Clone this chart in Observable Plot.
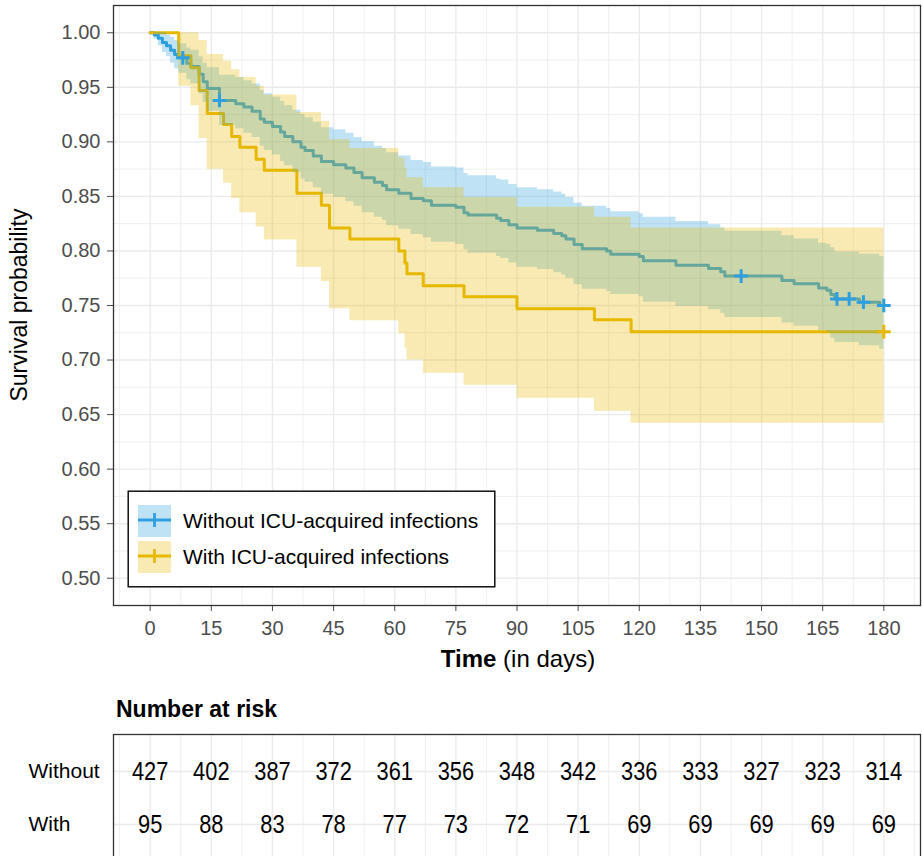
<!DOCTYPE html>
<html><head><meta charset="utf-8">
<script src="https://cdn.jsdelivr.net/npm/d3@7"></script>
<script src="https://cdn.jsdelivr.net/npm/@observablehq/plot@0.6"></script>
<style>
html,body{margin:0;padding:0;background:#fff;overflow:hidden}
#wrap{position:relative;width:922px;height:856px;overflow:hidden;font-family:"Liberation Sans",Arial,Helvetica,sans-serif}
#wrap > svg{position:absolute;left:0}
</style></head><body><div id="wrap"></div>
<script>
// ---------- data ----------
const seriesNames = ["Without ICU-acquired infections", "With ICU-acquired infections"];
const riskGroups = ["Without", "With"];
const xTicks = [0, 15, 30, 45, 60, 75, 90, 105, 120, 135, 150, 165, 180];
const xMinorTicks = [-7.5, 7.5, 22.5, 37.5, 52.5, 67.5, 82.5, 97.5, 112.5, 127.5, 142.5, 157.5, 172.5, 187.5];
const yTicks = [0.50, 0.55, 0.60, 0.65, 0.70, 0.75, 0.80, 0.85, 0.90, 0.95, 1.00];
const yMinorTicks = [0.525, 0.575, 0.625, 0.675, 0.725, 0.775, 0.825, 0.875, 0.925, 0.975];

// Without ICU-acquired infections (blue)
const blueTime  = [0,1,2,3,4,5,6,7,9,10,12,13,14,17,21,23,25,27,28,30,32,33,35,37,38,40,42,45,48,50,52,55,57,58,61,64,67,69,75,77,78,85,86,88,90,95,99,101,102,104,106,112,113,120,121,129,137,140,141,155,158,164,166,167,168,174,179,180];
const blueSurv  = [1,0.998,0.995,0.991,0.988,0.984,0.980,0.977,0.972,0.969,0.962,0.955,0.949,0.938,0.935,0.932,0.928,0.921,0.918,0.914,0.909,0.905,0.900,0.895,0.892,0.887,0.882,0.879,0.876,0.872,0.867,0.863,0.860,0.856,0.853,0.848,0.846,0.842,0.840,0.835,0.833,0.830,0.828,0.824,0.821,0.819,0.816,0.814,0.811,0.806,0.802,0.800,0.797,0.795,0.791,0.787,0.784,0.781,0.777,0.773,0.770,0.766,0.764,0.760,0.756,0.753,0.750,0.750];
const blueUpper = [1,1,1,1,0.998,0.996,0.993,0.990,0.986,0.984,0.978,0.972,0.968,0.961,0.959,0.956,0.953,0.947,0.944,0.941,0.937,0.933,0.929,0.925,0.922,0.918,0.913,0.911,0.908,0.904,0.900,0.896,0.894,0.890,0.887,0.883,0.881,0.877,0.876,0.871,0.869,0.866,0.865,0.861,0.858,0.856,0.854,0.852,0.849,0.844,0.841,0.839,0.836,0.834,0.831,0.827,0.824,0.821,0.818,0.814,0.811,0.807,0.806,0.803,0.799,0.797,0.795,0.795];
const blueLower = [1,0.994,0.988,0.982,0.978,0.972,0.967,0.963,0.957,0.953,0.944,0.936,0.928,0.915,0.912,0.908,0.904,0.896,0.892,0.888,0.882,0.878,0.872,0.866,0.863,0.858,0.852,0.849,0.845,0.841,0.835,0.831,0.828,0.823,0.820,0.815,0.812,0.808,0.806,0.801,0.798,0.795,0.793,0.789,0.785,0.783,0.780,0.778,0.775,0.769,0.765,0.763,0.760,0.758,0.753,0.749,0.746,0.743,0.739,0.734,0.731,0.727,0.725,0.720,0.716,0.713,0.710,0.710];
const blueCensorTimes = [8, 17, 145, 168.5, 171.5, 175, 180];

// With ICU-acquired infections (yellow)
const yellowTime  = [0,7,10,12,14,18,20,22,26,28,36,42,44,49,61,62.5,63,67,77,90,109,118,180];
const yellowSurv  = [1,0.979,0.968,0.947,0.926,0.916,0.905,0.895,0.884,0.874,0.853,0.842,0.821,0.811,0.800,0.789,0.779,0.768,0.758,0.747,0.737,0.726,0.726];
const yellowUpper = [1,1,1,0.993,0.980,0.974,0.966,0.959,0.951,0.943,0.927,0.919,0.902,0.894,0.885,0.876,0.867,0.858,0.849,0.840,0.831,0.821,0.821];
const yellowLower = [1,0.951,0.933,0.903,0.875,0.862,0.848,0.835,0.822,0.810,0.785,0.772,0.747,0.736,0.724,0.711,0.700,0.688,0.677,0.665,0.653,0.642,0.642];
const yellowCensorTimes = [180];

// Number at risk
const riskTimes   = [0, 15, 30, 45, 60, 75, 90, 105, 120, 135, 150, 165, 180];
const riskWithout = [427, 402, 387, 372, 361, 356, 348, 342, 336, 333, 327, 323, 314];
const riskWith    = [95, 88, 83, 78, 77, 73, 72, 71, 69, 69, 69, 69, 69];

// ---------- build ----------
const BLUE = "#2E9FDF", YELLOW = "#E7B800";
const FONT = '"Liberation Sans", Arial, Helvetica, sans-serif';
const toRows = (T, S, U, L) => T.map((t, i) => ({time: t, surv: S[i], upper: U[i], lower: L[i]}));
const blue = toRows(blueTime, blueSurv, blueUpper, blueLower);
const yellow = toRows(yellowTime, yellowSurv, yellowUpper, yellowLower);
function survAt(T, S, t) { let v = S[0]; for (let i = 0; i < T.length; i++) if (T[i] <= t) v = S[i]; return v; }
const blueCens = blueCensorTimes.map(t => ({time: t, surv: survAt(blueTime, blueSurv, t)}));
const yellowCens = yellowCensorTimes.map(t => ({time: t, surv: survAt(yellowTime, yellowSurv, t)}));
const riskRows = [
  ...riskTimes.map((t, i) => ({time: t, group: riskGroups[0], n: riskWithout[i]})),
  ...riskTimes.map((t, i) => ({time: t, group: riskGroups[1], n: riskWith[i]}))
];

const GRID = "#EBEBEB";
const main = Plot.plot({
  width: 922, height: 692,
  marginTop: 5, marginBottom: 87, marginLeft: 113, marginRight: 2,
  style: {fontFamily: FONT, fontSize: "20px", color: "#4D4D4D", background: "#fff"},
  x: {domain: [-9, 189], ticks: xTicks, tickSize: 6, tickPadding: 9, label: null},
  y: {domain: [0.475, 1.025], ticks: yTicks, tickFormat: d3.format(".2f"), tickSize: 6, tickPadding: 7, label: null},
  marks: [
    Plot.ruleX(xMinorTicks, {stroke: GRID, strokeWidth: 0.8}),
    Plot.ruleY(yMinorTicks, {stroke: GRID, strokeWidth: 0.8}),
    Plot.ruleX(xTicks, {stroke: GRID, strokeWidth: 1.4}),
    Plot.ruleY(yTicks, {stroke: GRID, strokeWidth: 1.4}),
    Plot.line(blue, {x: "time", y: "surv", curve: "step-after", stroke: BLUE, strokeWidth: 3}),
    Plot.line(yellow, {x: "time", y: "surv", curve: "step-after", stroke: YELLOW, strokeWidth: 3}),
    Plot.areaY(blue, {x: "time", y1: "lower", y2: "upper", curve: "step-after", fill: BLUE, fillOpacity: 0.3}),
    Plot.areaY(yellow, {x: "time", y1: "lower", y2: "upper", curve: "step-after", fill: YELLOW, fillOpacity: 0.3}),
    Plot.dot(blueCens, {x: "time", y: "surv", symbol: "plus", r: 4.5, stroke: BLUE, strokeWidth: 3}),
    Plot.dot(yellowCens, {x: "time", y: "surv", symbol: "plus", r: 4.5, stroke: YELLOW, strokeWidth: 3}),
    Plot.frame({stroke: "#333333", strokeWidth: 1.3})
  ]
});
main.style.top = "0px";
const ms = d3.select(main);
const xt = ms.append("text").attr("x", 518).attr("y", 667).attr("text-anchor", "middle")
  .attr("font-size", 24).attr("fill", "#000").attr("font-family", FONT);
xt.append("tspan").attr("font-weight", "bold").text("Time");
xt.append("tspan").text(" (in days)");
ms.append("text").attr("transform", "translate(27,305) rotate(-90)").attr("text-anchor", "middle")
  .attr("font-size", 23).attr("fill", "#000").attr("font-family", FONT).text("Survival probability");

const table = Plot.plot({
  width: 922, height: 168,
  marginTop: 42, marginBottom: 0, marginLeft: 113, marginRight: 2,
  style: {fontFamily: FONT, fontSize: "21px", color: "#000", background: "#fff"},
  x: {domain: [-9, 189], axis: null},
  y: {type: "point", domain: riskGroups, padding: 0.667, axis: null},
  marks: [
    Plot.ruleX(xMinorTicks, {stroke: GRID, strokeWidth: 0.8}),
    Plot.ruleX(xTicks, {stroke: GRID, strokeWidth: 1.4}),
    Plot.ruleY(riskGroups, {y: d => d, stroke: GRID, strokeWidth: 1.4}),
    Plot.text(riskRows, {x: "time", y: "group", text: d => String(d.n), fontSize: 26, fill: "#000"}),
    Plot.text(riskGroups, {y: d => d, text: d => d, frameAnchor: "left", dx: -85, textAnchor: "start", fontSize: 21, fill: "#000"}),
    Plot.frame({stroke: "#333333", strokeWidth: 1.3})
  ]
});
table.style.top = "692px";
// condense the at-risk numbers horizontally
const textGroups = table.querySelectorAll('g[aria-label="text"]');
if (textGroups.length) {
  textGroups[0].querySelectorAll("text").forEach(el => {
    const tr = el.getAttribute("transform");
    if (tr) el.setAttribute("transform", tr + " scale(0.84,1)");
    else {
      const x = +el.getAttribute("x") || 0, y = +el.getAttribute("y") || 0;
      el.setAttribute("transform", `translate(${x},${y}) scale(0.84,1) translate(${-x},${-y})`);
    }
  });
}
d3.select(table).append("text").attr("x", 116).attr("y", 25).attr("text-anchor", "start").attr("font-weight", "bold")
  .attr("font-size", 23).attr("fill", "#000").attr("font-family", FONT).text("Number at risk");

const wrap = document.getElementById("wrap");
wrap.appendChild(main);
wrap.appendChild(table);

// legend
const leg = d3.select(wrap).append("svg").attr("width", 369).attr("height", 98)
  .style("left", "127px").style("top", "490px");
leg.append("rect").attr("x", 1.2).attr("y", 1.2).attr("width", 366.6).attr("height", 95.6)
  .attr("fill", "#fff").attr("stroke", "#000").attr("stroke-width", 1.4);
const keys = [{c: BLUE, y: 15, label: seriesNames[0]}, {c: YELLOW, y: 51, label: seriesNames[1]}];
keys.forEach(k => {
  leg.append("rect").attr("x", 11).attr("y", k.y).attr("width", 33).attr("height", 32)
    .attr("fill", k.c).attr("fill-opacity", 0.3);
  leg.append("line").attr("x1", 11).attr("x2", 44).attr("y1", k.y + 15).attr("y2", k.y + 15)
    .attr("stroke", k.c).attr("stroke-width", 2.8);
  leg.append("line").attr("x1", 27.5).attr("x2", 27.5).attr("y1", k.y + 8).attr("y2", k.y + 22)
    .attr("stroke", k.c).attr("stroke-width", 2.8);
  leg.append("text").attr("x", 56).attr("y", k.y + 16).attr("dy", "0.35em")
    .attr("font-size", 21).attr("fill", "#000").attr("font-family", FONT).text(k.label);
});
</script></body></html>
